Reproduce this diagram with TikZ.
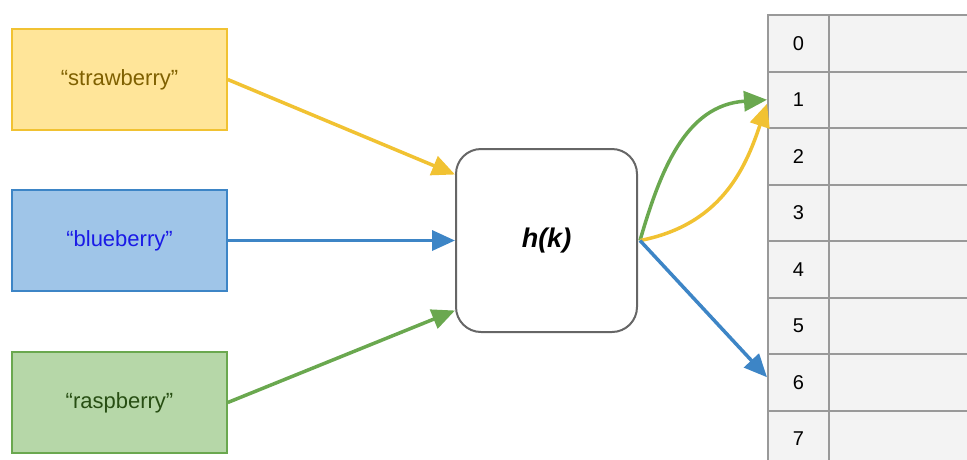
\documentclass[tikz,border=0pt]{standalone}
\usepackage{fontspec}
\setmainfont{Liberation Sans}
\usetikzlibrary{arrows.meta}

\definecolor{ylwline}{HTML}{F1C232}
\definecolor{ylwfill}{HTML}{FFE599}
\definecolor{ylwtext}{HTML}{7F6000}
\definecolor{bluline}{HTML}{3D85C6}
\definecolor{blufill}{HTML}{9FC5E8}
\definecolor{blutext}{HTML}{1A1AE6}
\definecolor{grnline}{HTML}{6AA84F}
\definecolor{grnfill}{HTML}{B6D7A8}
\definecolor{grntext}{HTML}{274E13}
\definecolor{hashline}{HTML}{666666}
\definecolor{cellline}{HTML}{999999}
\definecolor{cellfill}{HTML}{F3F3F3}

\tikzset{
  keybox/.style={draw, line width=1.5pt, minimum width=215pt, minimum height=101pt,
    inner sep=0pt, font=\fontsize{22}{26}\selectfont},
  hashbox/.style={draw=hashline, fill=white, line width=2pt, rounded corners=25pt,
    minimum width=181pt, minimum height=183pt, inner sep=0pt,
    font=\fontsize{27}{31}\selectfont\bfseries\itshape},
  idxcell/.style={draw=cellline, fill=cellfill, line width=2pt, minimum width=61pt,
    minimum height=56.5pt, inner sep=0pt, font=\fontsize{20}{24}\selectfont},
  valcell/.style={draw=cellline, fill=cellfill, line width=2pt, minimum width=160pt,
    minimum height=56.5pt, inner sep=0pt},
  flow/.style={line width=3.5pt, -{Triangle[length=23pt,width=20pt]}},
}

\begin{document}
\begin{tikzpicture}[x=1pt,y=-1pt]
\useasboundingbox (0,0) rectangle (967,459);
\clip (0,0) rectangle (967,459);

% keys
\node[keybox, draw=ylwline, fill=ylwfill, text=ylwtext] (straw) at (119.5,79.5) {“strawberry”};
\node[keybox, draw=bluline, fill=blufill, text=blutext] (blue) at (119.5,240.5) {“blueberry”};
\node[keybox, draw=grnline, fill=grnfill, text=grntext] (rasp) at (119.5,402.5) {“raspberry”};

% hash function
\node[hashbox] (h) at (546.5,240.5) {h(k)};

% bucket table
\foreach \i in {0,...,7} {
  \node[idxcell] (idx\i) at (798.5,{43.25+56.5*\i}) {\i};
  \node[valcell] (val\i) at (909,{43.25+56.5*\i}) {};
}

% keys into the hash function
\draw[flow, ylwline] (straw.east) -- ([yshift=66pt]h.west);
\draw[flow, bluline] (blue.east) -- (h.west);
\draw[flow, grnline] (rasp.east) -- ([yshift=-70pt]h.west);

% hash function into buckets
\coordinate (out) at ([xshift=2pt]h.east);
\draw[flow, grnline] (out) .. controls (660,172) and (685,105) .. (idx1.west);
\draw[flow, ylwline] (out) .. controls (720,225) and (745,170) .. ([yshift=-4pt]idx1.west);
\draw[flow, bluline] (out) -- ([yshift=5pt]idx6.west);
\end{tikzpicture}
\end{document}
